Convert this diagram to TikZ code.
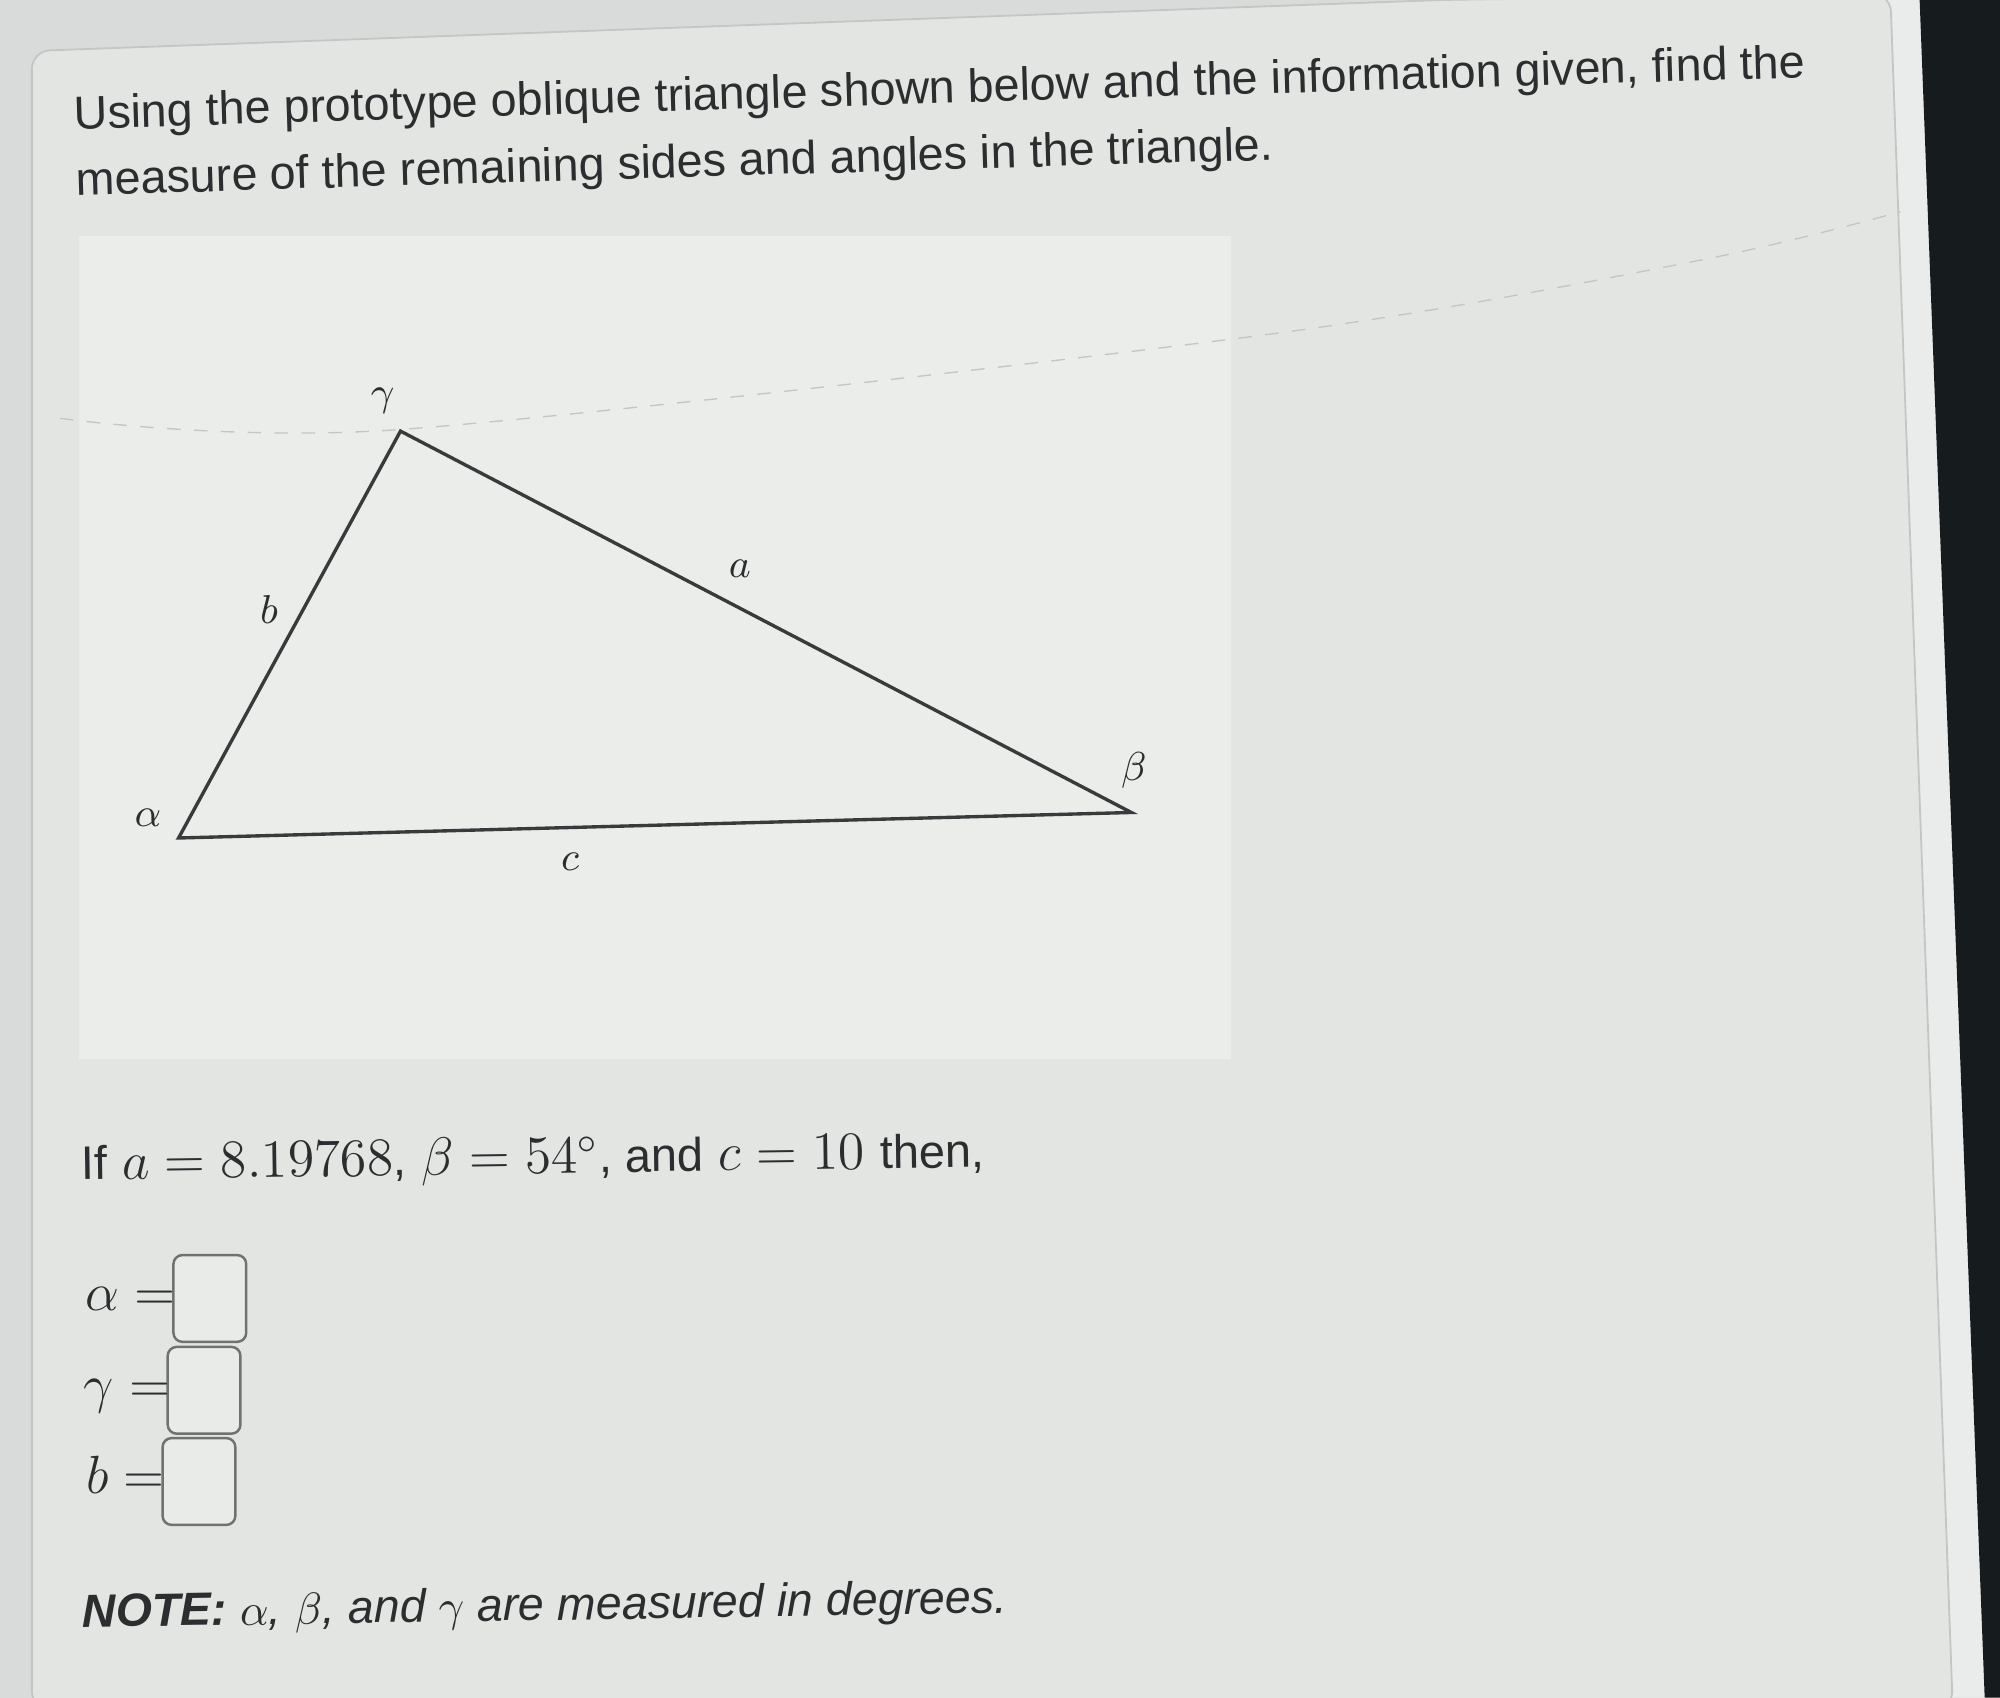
\documentclass[tikz,border=0pt]{standalone}
\usepackage{fontspec}
\setmainfont{Liberation Sans}
\usetikzlibrary{positioning}
\definecolor{pagebg}{HTML}{D9DBDA}
\definecolor{cardbg}{HTML}{E3E5E3}
\definecolor{cardline}{HTML}{C4C6C5}
\definecolor{stripbg}{HTML}{EAECEB}
\definecolor{panelbg}{HTML}{EBEDEB}
\definecolor{bezel}{HTML}{161B1D}
\definecolor{ink}{HTML}{2B2D2F}
\definecolor{triline}{HTML}{383A3B}
\definecolor{boxline}{HTML}{707271}
\definecolor{boxfill}{HTML}{E9EBE9}
\tikzset{
    tri/.style={draw=triline, line width=0.75pt, line join=miter},
    vlabel/.style={inner sep=0pt, font=\fontsize{9.5}{11}\selectfont, text=ink},
    ansbox/.style={draw=boxline, fill=boxfill, rounded corners=2pt, line width=0.55pt, minimum width=0.57cm, minimum height=0.68cm, inner sep=0pt},
    anslabel/.style={inner sep=0pt, font=\fontsize{12}{14}\selectfont, text=ink},
    para/.style={inner sep=0pt, anchor=base west, text=ink}
}
\newcommand{\answerrow}[3]{
    \node[ansbox] (#1-box) at (#2) {};
    \node[anslabel, anchor=mid east] (#1-lbl) at ([xshift=1pt]#1-box.west) {#3};
}
\newcommand{\txt}[1]{{\fontsize{10.5}{12}\selectfont #1}}
\begin{document}
\begin{tikzpicture}[x=0.01cm, y=-0.01cm]
                    \useasboundingbox (0,0) rectangle (1568,1331);
                    \fill[pagebg] (0,0) rectangle (1568,1331);
                    \fill[stripbg] (1300,0) -- (1510,0) -- (1560,1331) -- (1300,1331) -- cycle;
                    \filldraw[fill=cardbg, draw=cardline, line width=0.4pt, rounded corners=4pt]
                    (25,1340) -- (25,40) -- (1130,0) -- (1482,-5) -- (1531,1340) -- cycle;
                    \fill[bezel] (1505,0) -- (1568,0) -- (1568,1331) -- (1556,1331) -- cycle;
                    \fill[panelbg] (62,185) rectangle (965,830);
                    \draw[cardline, dashed, line width=0.3pt] plot[smooth] coordinates {(47,328) (310,337) (988,263) (1333,204) (1490,166)};
                    \node[para, anchor=north west, align=left, rotate=1.7, font=\fontsize{10.4}{14.8}\selectfont] (intro) at (57,74)
                    {Using the prototype oblique triangle shown below and the information given, find the\\
                    measure of the remaining sides and angles in the triangle.};
                    \coordinate (A) at (140,657);
                    \coordinate (B) at (887,637);
                    \coordinate (C) at (314,338);
                    \draw[tri] (A) -- (B) -- (C) -- cycle;
                    \node[vlabel] (alpha) at (116,641) {$\alpha$};
                    \node[vlabel] (beta) at (889,604) {$\beta$};
                    \node[vlabel] (gamma) at (300,314) {$\gamma$};
                    \node[vlabel] (sa) at (580,446) {$a$};
                    \node[vlabel] (sb) at (211,478) {$b$};
                    \node[vlabel] (sc) at (447,676) {$c$};
                    \node[para, rotate=0.8, font=\fontsize{12}{14}\selectfont] (given) at (63,925)
                    {\txt{If} $a = 8.19768$\txt{,} $\beta = 54^\circ$\txt{, and} $c = 10$ \txt{then,}};
                    \answerrow{ralpha}{164.5,1018}{$\alpha =$}
                    \answerrow{rgamma}{160,1090}{$\gamma =$}
                    \answerrow{rb}{156,1161.5}{$b =$}
                    \node[para, rotate=0.9, font=\fontsize{10.37}{12}\selectfont\itshape] (note) at (64,1276)
                    {\textbf{NOTE:} $\alpha$, $\beta$, and $\gamma$ are measured in degrees.};
                \end{tikzpicture}
\end{document}
